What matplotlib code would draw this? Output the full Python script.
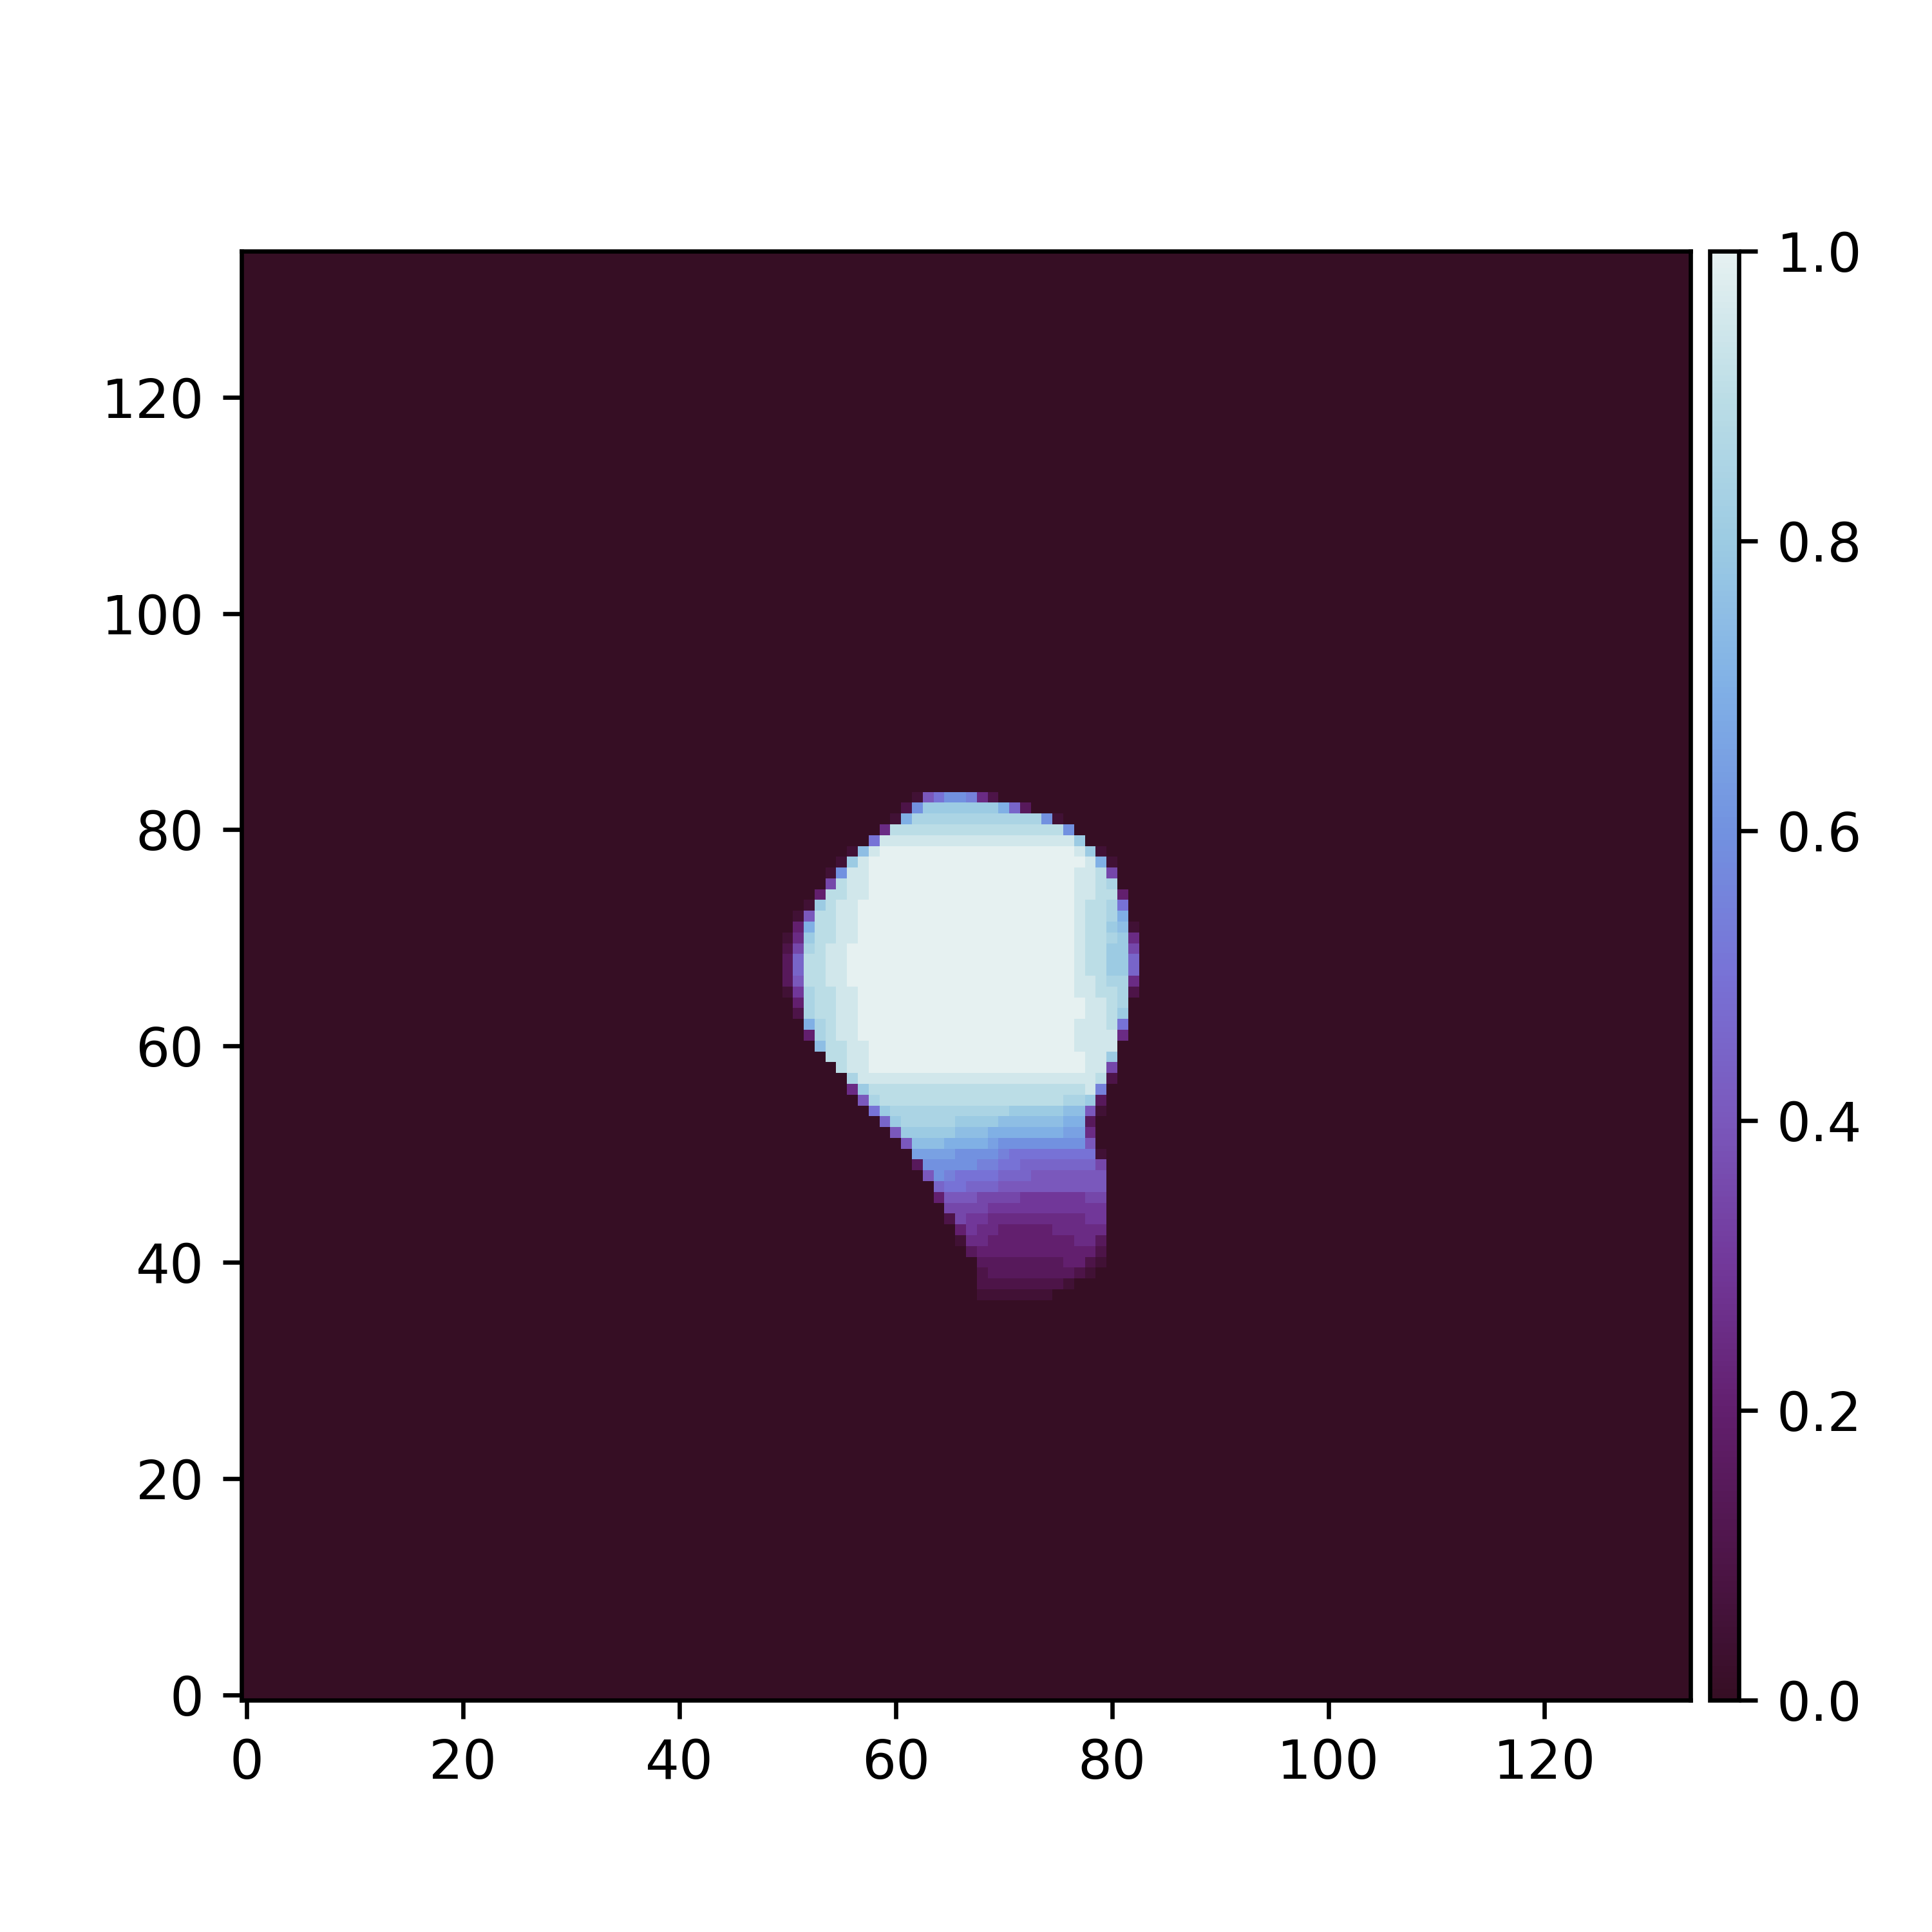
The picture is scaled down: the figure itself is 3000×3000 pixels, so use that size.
import re
import numpy as np
import matplotlib.pyplot as plt
from matplotlib.colors import LinearSegmentedColormap
from mpl_toolkits.axes_grid1 import make_axes_locatable

# grid is 134 x 134, background value 0
grid_size = 134

# cell levels: a = 0.00, b = 0.05, ... u = 1.00
levels = "abcdefghijklmnopqrstu"

# (row, first column, run-length coded cells)
blob_rows = [
    (83, 62, "bikmmlfc"),
    (82, 61, "cm7qojd"),
    (81, 60, "bo12rmb"),
    (80, 59, "f16sm"),
    (79, 58, "k18tq"),
    (78, 56, "bpt18utqb"),
    (77, 55, "bqt20utob"),
    (76, 54, "bm2t19u2tsh"),
    (75, 54, "hs2t19u2tsr"),
    (74, 53, "e2s2t19u2t2se"),
    (73, 52, "bqs2t20ut2srk"),
    (72, 51, "bi2s2t20ut2sro"),
    (71, 51, "eo2s2t20ut2sqpb"),
    (70, 50, "bfq2s2t20ut2srqf"),
    (69, 50, "chrs2t21ut2s2qh"),
    (68, 50, "dj2s2t21ut2s2qj"),
    (67, 50, "dj2s2t21ut2s2qj"),
    (66, 50, "di2s2t21u2ts2rf"),
    (65, 50, "bgr2s2t20u2t2src"),
    (64, 51, "er2s2t21u2tsr"),
    (63, 51, "cr2s2t21u2tsq"),
    (62, 52, "ors2t20u3tsk"),
    (61, 52, "ers2t20u4tf"),
    (60, 53, "p2s2t19u4t"),
    (59, 54, "2s2t20u2tq"),
    (58, 55, "s2t20u2th"),
    (57, 56, "r22tsc"),
    (56, 56, "fq20stl"),
    (55, 57, "ir17s2rqd"),
    (54, 58, "kq11r5q2pib"),
    (53, 59, "jq5r4q6p2od"),
    (52, 60, "i5q3p7o2nf"),
    (51, 61, "i3p4on8mi"),
    (50, 62, "4n4ml8kb"),
    (49, 62, "d5m2l2k7jh"),
    (48, 63, "iml4k3j7i"),
    (47, 64, "j2k3j10i"),
    (46, 64, "e3i4h6g2h"),
    (45, 65, "4h11g"),
    (44, 65, "ch2g9f2g"),
    (43, 66, "eg2f5e5f"),
    (42, 66, "b2f8e2fd"),
    (41, 67, "d11ec"),
    (40, 68, "8d2ecb"),
    (39, 68, "c8dcb"),
    (38, 68, "8cb"),
    (37, 68, "7b"),
]

# colour map, dark maroon (0) to pale blue-white (1)
cmap_colors = ["#360e24", "#4e1549", "#621f6e", "#72389a", "#7a58bc", "#7872d6",
               "#7292e0", "#80b0e6", "#9ccbe3", "#bbdde6", "#e6f1f1"]
cmap = LinearSegmentedColormap.from_list("dense_r", cmap_colors)

field = np.zeros((grid_size, grid_size))
for row, col0, code in blob_rows:
    cells = ""
    for count, ch in re.findall(r"(\d*)([a-u])", code):
        cells += ch * (int(count) if count else 1)
    for k, ch in enumerate(cells):
        field[row, col0 + k] = levels.index(ch) * 0.05

fig, ax = plt.subplots(figsize=(5, 5), dpi=600)
im = ax.imshow(field, origin='lower', cmap=cmap, vmin=0, vmax=1, interpolation='nearest')

divider = make_axes_locatable(ax)
cax = divider.append_axes("right", size="2%", pad=0.05)
fig.colorbar(im, cax=cax)

fig.savefig('out.png', dpi=600)
